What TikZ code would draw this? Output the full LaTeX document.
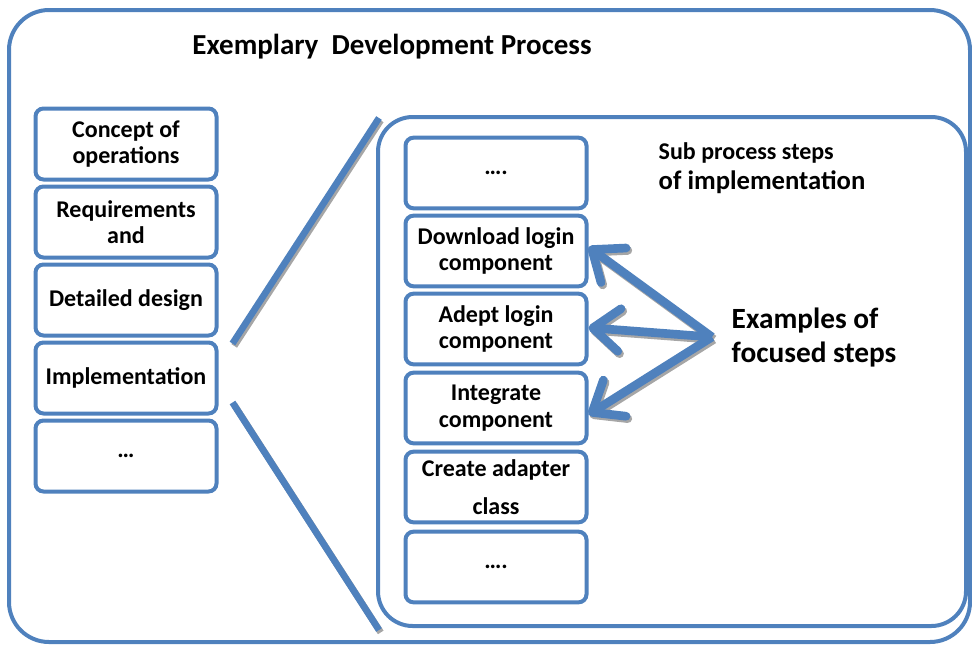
\documentclass[tikz,border=0pt]{standalone}
\usepackage{fontspec}
\setmainfont{Carlito}
\usetikzlibrary{arrows.meta}
\definecolor{stepblue}{HTML}{4F81BD}
\tikzset{
  frame/.style={draw=stepblue, line width=3pt},
  phase/.style={draw=stepblue, line width=3pt, rounded corners=6pt, fill=white,
    minimum width=135.75pt, minimum height=53.25pt, inner sep=0pt, align=center,
    font=\bfseries\fontsize{18}{20}\selectfont},
  substep/.style={phase, minimum height=53pt},
  zoomline/.style={line width=5pt},
  focusarrow/.style={line width=6.5pt,
    -{Straight Barb[length=20pt, width=32pt, line cap=round, line join=round]}},
}
\begin{document}
\begin{tikzpicture}[x=0.75pt,y=-0.75pt]
\useasboundingbox (0,0) rectangle (972,644);
\draw[frame, rounded corners=30pt] (9,10) rectangle (970,642);
\node[font=\bfseries\fontsize{21.75}{26}\selectfont] (head) at (392,47) {Exemplary\ \ Development Process};
\node[phase] (conops) at (126,144) {Concept of\\operations};
\node[phase] (req) at (126,222) {Requirements\\and};
\node[phase] (design) at (126,300) {Detailed design};
\node[phase] (impl) at (126,378) {Implementation};
\node[phase] (later) at (126,456) {\dots};
\draw[frame, rounded corners=26pt] (378,117) rectangle (966,626);
\coordinate (zoomtop) at (379,118);
\coordinate (zoombot) at (379,630);
\node[substep] (first) at (496,173) {\dots.};
\node[substep] (download) at (496,251) {Download login\\component};
\node[substep] (adept) at (496,329) {Adept login\\component};
\node[substep] (integrate) at (496,408) {Integrate\\component};
\node[substep] (adapter) at (496,487) {Create adapter\\[8pt]class};
\node[substep] (last) at (496,567) {\dots.};
\node[anchor=west, align=left, font=\bfseries\fontsize{20}{22.5}\selectfont] (subhead) at (654,168)
  {{\fontsize{18}{22.5}\selectfont Sub process steps}\\of implementation};
\node[anchor=west, align=left, font=\bfseries\fontsize{22}{25.5}\selectfont] (focus) at (727,338)
  {Examples of\\focused steps};
\coordinate (hub) at (712,337);
\foreach \tone/\ox/\oy in {black!35/1.3pt/-1.8pt, stepblue/0pt/0pt}{
\begin{scope}[transform canvas={shift={(\ox,\oy)}}, draw=\tone]
\draw[zoomline] ([shift={(14,3)}]impl.north east) -- (zoomtop);
\draw[zoomline] ([shift={(14,-13)}]impl.south east) -- (zoombot);
\draw[focusarrow] (hub) -- ([yshift=3]download.east);
\draw[focusarrow] (hub) -- ([yshift=1]adept.east);
\draw[focusarrow] (hub) -- ([yshift=-5]integrate.east);
\end{scope}
}
\end{tikzpicture}
\end{document}
